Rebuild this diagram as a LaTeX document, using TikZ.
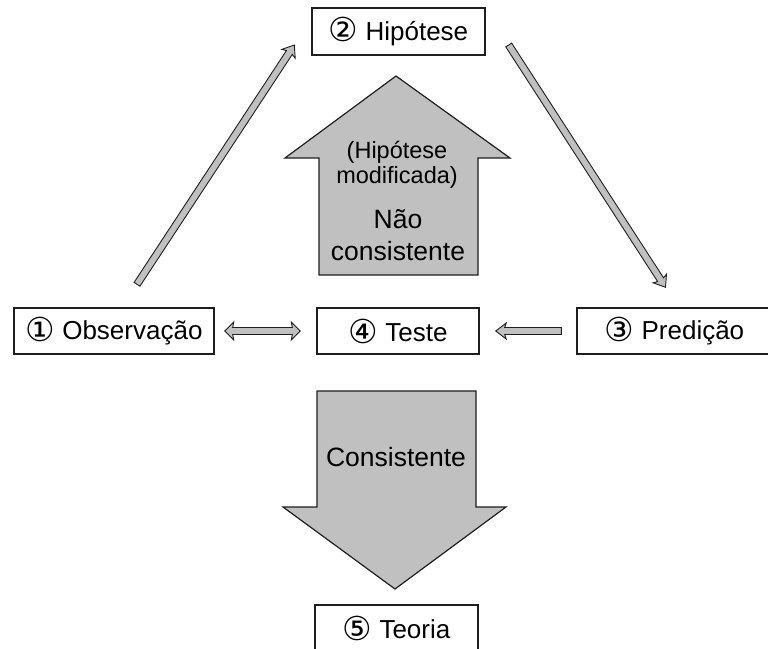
\documentclass[tikz,border=0pt]{standalone}
\usepackage{fontspec}
\setmainfont{Liberation Sans}
\newfontfamily\circfont{DejaVu Sans}
\usetikzlibrary{calc}

\definecolor{arrowgray}{HTML}{C0C0C0}
\definecolor{edgegray}{HTML}{1E1E1E}

% circled step numbers
\newcommand{\stepnum}[1]{{\circfont\fontsize{33}{33}\selectfont\raisebox{-1.5pt}{#1}}}

\tikzset{
  stepbox/.style={draw=edgegray, line width=1.4pt, fill=white, inner sep=0pt,
    minimum height=46pt, font=\fontsize{26}{30}\selectfont},
  % thin grey block arrow from start to target (one head)
  thinarrow/.style={draw=edgegray, fill=arrowgray, line width=0.9pt, line join=miter,
    to path={
      let \p1=(\tikztostart), \p2=(\tikztotarget),
          \n1={atan2(\y2-\y1,\x2-\x1)}, \n2={veclen(\x2-\x1,\y2-\y1)}
      in {[shift={(\p1)}, rotate=\n1]
        (0pt,-#1) -- ({\n2-9pt},-#1) -- ({\n2-10.5pt},-8pt) -- ({\n2},0pt)
        -- ({\n2-10.5pt},8pt) -- ({\n2-9pt},#1) -- (0pt,#1) -- cycle}
    }},
  thinarrow/.default=3pt,
  % thin grey block arrow with heads at both ends
  thindouble/.style={draw=edgegray, fill=arrowgray, line width=0.9pt, line join=miter,
    to path={
      let \p1=(\tikztostart), \p2=(\tikztotarget),
          \n1={atan2(\y2-\y1,\x2-\x1)}, \n2={veclen(\x2-\x1,\y2-\y1)}
      in {[shift={(\p1)}, rotate=\n1]
        (0pt,0pt) -- (9pt,-9pt) -- (8pt,-3.5pt) -- ({\n2-8pt},-3.5pt) -- ({\n2-9pt},-9pt)
        -- ({\n2},0pt) -- ({\n2-9pt},9pt) -- ({\n2-8pt},3.5pt) -- (8pt,3.5pt) -- (9pt,9pt) -- cycle}
    }},
  bigarrow/.style={draw=edgegray, fill=arrowgray, line width=1.2pt, line join=miter},
  arrowtext/.style={align=center, inner sep=0pt},
}

\begin{document}
\begin{tikzpicture}[x=1pt, y=-1pt]
  \useasboundingbox (0,0) rectangle (768,648);
  \clip (0,0) rectangle (768,648);

  % large block arrows of the test outcome
  \draw[bigarrow] (396,76) -- (510,158) -- (478,158) -- (478,275) -- (319,275)
    -- (319,158) -- (285,158) -- cycle;
  \draw[bigarrow] (317,391) -- (476,391) -- (476,507) -- (506,507) -- (395,589)
    -- (283,507) -- (317,507) -- cycle;

  \node[arrowtext, font=\fontsize{23.5}{25}\selectfont] (modified) at (397,165)
    {(Hipótese\\modificada)};
  \node[arrowtext, font=\fontsize{26.5}{32}\selectfont] (inconsistent) at (398,235)
    {Não\\consistente};
  \node[arrowtext, font=\fontsize{26.5}{30}\selectfont] (consistent) at (396,457)
    {Consistente};

  % steps of the method
  \node[stepbox, minimum width=173pt, minimum height=47pt] (hip) at (398.5,31.5)
    {\stepnum{②} Hipótese};
  \node[stepbox, minimum width=200pt] (obs) at (114,331)
    {\stepnum{①} Observação};
  \node[stepbox, minimum width=162pt] (teste) at (398,331)
    {\stepnum{④} Teste};
  \node[stepbox, minimum width=195pt] (pred) at (674.5,331)
    {\stepnum{③} Predição};
  \node[stepbox, minimum width=163pt] (teoria) at (396.5,628)
    {\stepnum{⑤} Teoria};

  % connectors
  \draw[thinarrow=3.5pt] ($(obs.north)+(23,-23)$) to ($(hip.west)+(-17,13.5)$);
  \draw[thinarrow=3.5pt] ($(hip.east)+(23,13.5)$) to ($(pred.north)+(-9,-20)$);
  \draw[thindouble] ($(obs.east)+(10,0)$) to ($(teste.west)+(-16,0)$);
  \draw[thinarrow=3.5pt] ($(pred.west)+(-15,0)$) to ($(teste.east)+(16,0)$);
\end{tikzpicture}
\end{document}
